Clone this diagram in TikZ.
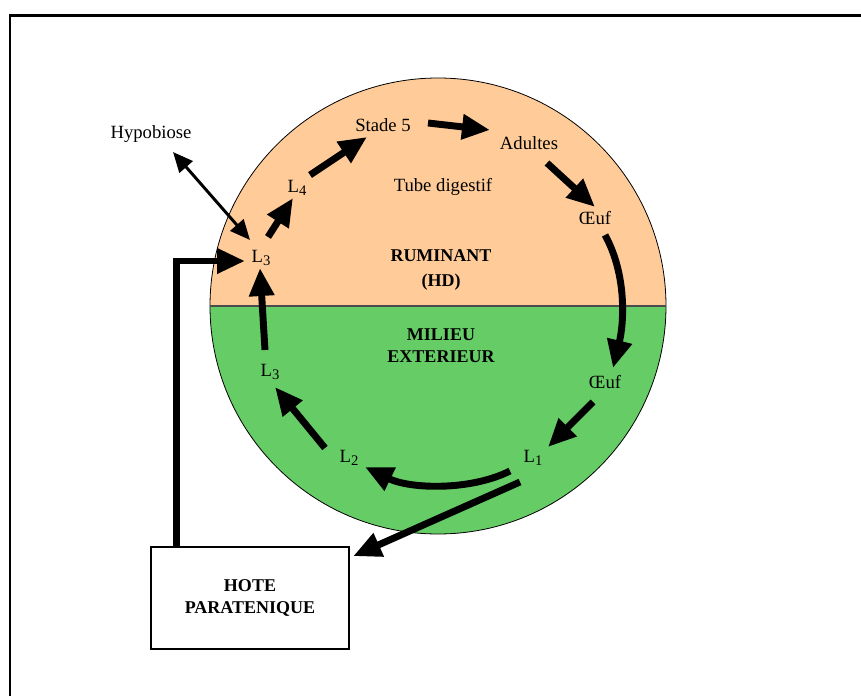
\documentclass[tikz,border=0pt]{standalone}
\usepackage{fontspec}
\setmainfont{Liberation Serif}
\usetikzlibrary{arrows.meta,calc}
\definecolor{peach}{HTML}{FFCC99}
\definecolor{grass}{HTML}{66CC66}
\newcommand{\larva}[1]{L\raisebox{-0.3ex}{\fontsize{11}{11}\selectfont #1}}

\begin{document}
\begin{tikzpicture}[x=0.75pt,y=-0.75pt,
    lbl/.style={font=\fontsize{14}{17}\selectfont},
    title/.style={font=\fontsize{13.5}{16.5}\selectfont\bfseries, align=center},
    flow/.style={line width=5.2pt, -{Triangle[length=21pt,width=18pt]}},
    thinflow/.style={line width=2.2pt, {Triangle[length=15pt,width=13pt]}-{Triangle[length=15pt,width=13pt]}}]
    \useasboundingbox (0,0) rectangle (861,696);

    % Frame
    \draw[line width=2.2pt] (10,696) -- (10,15.5) -- (861,15.5);

    % Host and outside halves
    \coordinate (c) at (438,306);
    \begin{scope}
        \clip (200,60) rectangle (680,306);
        \fill[peach] (c) circle (228);
    \end{scope}
    \begin{scope}
        \clip (200,306) rectangle (680,545);
        \fill[grass] (c) circle (228);
    \end{scope}
    \draw[line width=0.6pt] (c) circle (228);
    \draw[line width=0.8pt, black!70] (210,306) -- (666,306);

    % Stages
    \node[lbl] (hypo) at (151,134) {Hypobiose};
    \node[lbl] (stade) at (383,125) {Stade 5};
    \node[lbl] (adultes) at (529,143) {Adultes};
    \node[lbl] (tube) at (443,187) {Tube digestif};
    \node[lbl] (l4) at (297,188) {\larva{4}};
    \node[lbl] (oeufA) at (595,218) {Œuf};
    \node[lbl] (l3up) at (261,258) {\larva{3}};
    \node[lbl] (l3low) at (270,372) {\larva{3}};
    \node[lbl] (oeufB) at (605,382) {Œuf};
    \node[lbl] (l1) at (533,458) {\larva{1}};
    \node[lbl] (l2) at (349,458) {\larva{2}};

    % Zones
    \node[title] (rum) at (441,270) {RUMINANT\\[2pt](HD)};
    \node[title] (mil) at (441,346) {MILIEU\\EXTERIEUR};
    \node[title, draw, line width=1.5pt, minimum width=148pt, minimum height=77pt] (hote) at (250,598) {HOTE\\PARATENIQUE};

    % Cycle
    \draw[thinflow] ($(hypo)+(22,18)$) -- ($(l3up)+(-11,-18)$);
    \draw[flow] ($(l3up)+(7,-21)$) -- ($(l4)+(-4,10)$);
    \draw[flow] ($(l4)+(13,-13)$) -- ($(stade)+(-16,12)$);
    \draw[flow] ($(stade)+(45,-2)$) -- ($(adultes)+(-39,-13)$);
    \draw[flow] ($(adultes)+(18,20)$) -- ($(oeufA)+(0,-11)$);
    \draw[flow] ($(oeufA)+(10,17)$) .. controls +(22,40) and +(11,-45) .. ($(oeufB)+(8,-14)$);
    \draw[flow] ($(oeufB)+(-12,20)$) -- ($(l1)+(15,-11)$);
    \draw[flow] ($(l1)+(-23,13)$) .. controls +(-40,20) and +(45,22) .. ($(l2)+(16,9)$);
    \draw[flow] ($(l2)+(-24,-10)$) -- ($(l3low)+(5,15)$);
    \draw[flow] ($(l3low)+(-5,-22)$) -- ($(l3up)+(-1,10)$);

    % Paratenic host
    \draw[flow] ($(hote.north west)+(26,0)$) |- ($(l3up)+(-16,3)$);
    \draw[flow] ($(l1)+(-13,24)$) -- ($(hote.north east)+(3.5,10.5)$);

\end{tikzpicture}
\end{document}
